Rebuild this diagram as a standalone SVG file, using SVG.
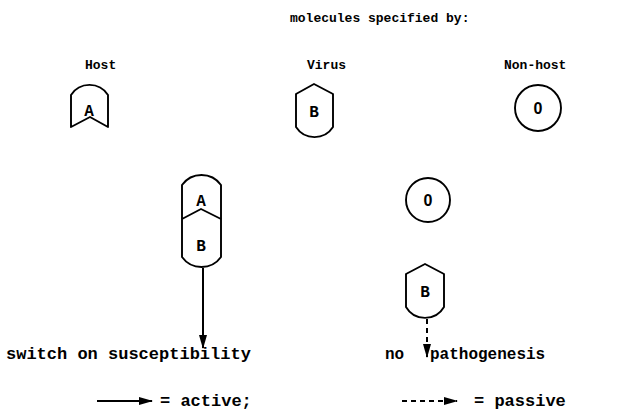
<svg xmlns="http://www.w3.org/2000/svg" width="620" height="416" viewBox="0 0 620 416">
  <style>
    .mol { fill: none; stroke: #000; stroke-width: 1.9; stroke-linejoin: round; }
    .lbl { font-family: "Liberation Mono", "DejaVu Sans Mono", monospace; font-weight: bold; fill: #000; }
    .sm { font-size: 13px; }
    .lg { font-size: 17px; }
    .ltr { font-family: "Liberation Mono", "DejaVu Sans Mono", monospace; font-weight: bold; font-size: 16px; text-anchor: middle; fill: #000; }
    .zero { font-family: "Liberation Sans", Arial, sans-serif; font-weight: bold; font-size: 16px; text-anchor: middle; fill: #000; }
    .edge { stroke: #000; stroke-width: 2; fill: none; }
    .dash { stroke-dasharray: 5 4; }
  </style>
  <defs>
    <marker id="head" viewBox="0 0 14 8" refX="13" refY="4" markerWidth="14" markerHeight="8" markerUnits="userSpaceOnUse" orient="auto">
      <path d="M0,0 L14,4 L0,8 Z" fill="#000"/>
    </marker>
  </defs>
  <rect width="620" height="416" fill="#fff"/>

  <!-- headings -->
  <text class="lbl sm" x="290" y="22">molecules specified by:</text>
  <text class="lbl sm" x="85" y="69">Host</text>
  <text class="lbl sm" x="307" y="69">Virus</text>
  <text class="lbl sm" x="504" y="69">Non-host</text>

  <!-- host molecule A -->
  <g id="host-a">
    <path class="mol" d="M71,127 L71,95 A22,22 0 0 1 108,95 L108,127 L90,117 Z"/>
    <text class="ltr" x="89" y="116">A</text>
  </g>

  <!-- virus molecule B -->
  <g id="virus-b">
    <path class="mol" d="M314,84 L333,94 L333,127 A22,22 0 0 1 296,127 L296,94 Z"/>
    <text class="ltr" x="314" y="117">B</text>
  </g>

  <!-- non-host molecule 0 -->
  <g id="nonhost-0">
    <circle class="mol" cx="538" cy="108" r="23"/>
    <text class="zero" x="538" y="114">0</text>
  </g>

  <!-- A-B complex -->
  <g id="complex-ab">
    <path class="mol" d="M182,185 A24,24 0 0 1 221,185 L221,257 A24,24 0 0 1 182,257 Z"/>
    <path class="mol" d="M182,219 L201,209 L221,219"/>
    <text class="ltr" x="201" y="206">A</text>
    <text class="ltr" x="201" y="251">B</text>
  </g>

  <!-- free non-host molecule -->
  <g id="free-0">
    <circle class="mol" cx="428" cy="200" r="22"/>
    <text class="zero" x="428" y="206">0</text>
  </g>

  <!-- free virus molecule -->
  <g id="free-b">
    <path class="mol" d="M425,264 L444,274 L444,307 A22,22 0 0 1 406,307 L406,274 Z"/>
    <text class="ltr" x="425" y="297">B</text>
  </g>

  <!-- outcomes -->
  <g id="susceptibility">
    <text class="lbl lg" x="6" y="359">switch on susceptibility</text>
  </g>
  <g id="no-pathogenesis">
    <text class="lbl" font-size="16" x="385" y="359">no <tspan x="430">pathogenesis</tspan></text>
  </g>

  <!-- connectors -->
  <g id="connectors">
    <line class="edge" x1="203" y1="268" x2="203" y2="348" marker-end="url(#head)"/>
    <line class="edge dash" x1="427" y1="319" x2="427" y2="357" marker-end="url(#head)"/>
  </g>

  <!-- legend -->
  <g id="legend">
    <line class="edge" x1="97" y1="401" x2="152" y2="401" marker-end="url(#head)"/>
    <text class="lbl lg" x="160" y="406">= active;</text>
    <line class="edge dash" x1="402" y1="401" x2="457" y2="401" marker-end="url(#head)"/>
    <text class="lbl lg" x="474" y="406">= passive</text>
  </g>
</svg>
